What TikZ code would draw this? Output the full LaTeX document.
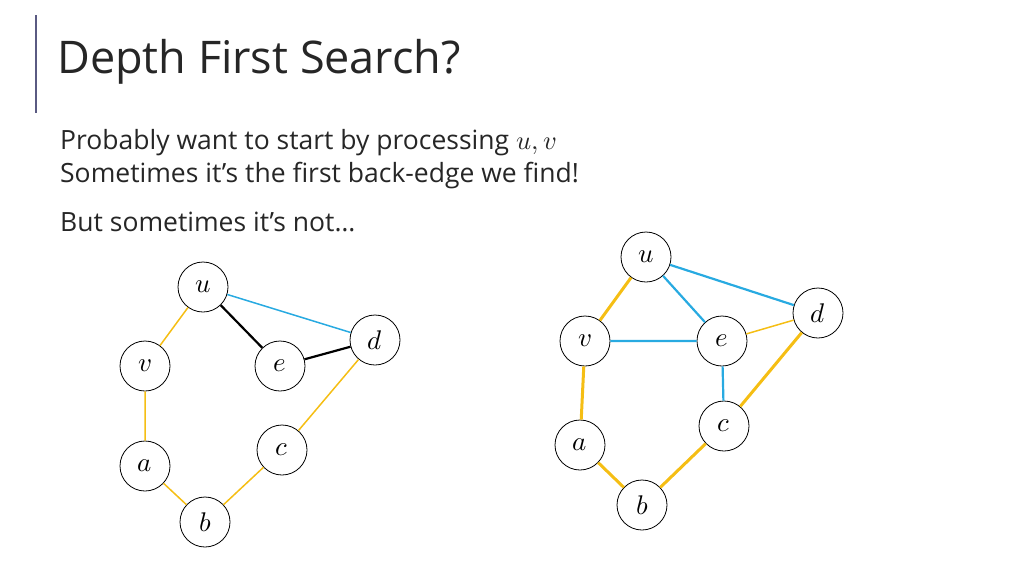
\documentclass[tikz,border=0pt]{standalone}
\usepackage{fontspec}
\setmainfont{Open Sans}
\usepackage{unicode-math}
\definecolor{ylw}{RGB}{245,190,20}
\definecolor{blu}{RGB}{40,170,225}
\definecolor{bar}{RGB}{90,90,130}
\begin{document}
\begin{tikzpicture}[x=1pt,y=-1pt,
  vtx/.style={circle,draw,thick,minimum size=50pt,inner sep=0pt,font=\fontsize{27}{30}\selectfont},
  ye/.style={ylw,line width=1.5pt},
  yt/.style={ylw,line width=3pt},
  be/.style={blu,line width=1.5pt},
  bt/.style={blu,line width=2.2pt},
  ke/.style={black,line width=2.2pt}]
\useasboundingbox (0,0) rectangle (1024,576);
\draw[bar,line width=1.2pt] (36,15) -- (36,113);
\node[anchor=west,font=\fontsize{45}{48}\selectfont,text=black!85,inner sep=0pt] (title) at (57,62) {Depth First Search?};
\node[anchor=west,font=\fontsize{26.5}{29}\selectfont,text=black!85,inner sep=0pt] (l1) at (60,143) {Probably want to start by processing $u,v$};
\node[anchor=west,font=\fontsize{26.5}{29}\selectfont,text=black!85,inner sep=0pt] (l2) at (60,176) {Sometimes it’s the first back-edge we find!};
\node[anchor=west,font=\fontsize{26.5}{29}\selectfont,text=black!85,inner sep=0pt] (l3) at (60,222) {But sometimes it’s not…};
% left graph
\node[vtx] (u) at (203,287) {$u$};
\node[vtx] (v) at (145,366) {$v$};
\node[vtx] (e) at (280,366) {$e$};
\node[vtx] (d) at (375,340) {$d$};
\node[vtx] (a) at (145,466) {$a$};
\node[vtx] (c) at (282,450) {$c$};
\node[vtx] (b) at (205,522) {$b$};
\draw[ye] (u)--(v) (v)--(a) (a)--(b) (b)--(c) (c)--(d);
\draw[be] (u)--(d);
\draw[ke] (u)--(e) (e)--(d);
% right graph
\node[vtx] (U) at (646,257) {$u$};
\node[vtx] (D) at (818,313) {$d$};
\node[vtx] (V) at (585,341) {$v$};
\node[vtx] (E) at (722,341) {$e$};
\node[vtx] (C) at (724,426) {$c$};
\node[vtx] (A) at (580,445) {$a$};
\node[vtx] (B) at (642,505) {$b$};
\draw[yt] (U)--(V) (V)--(A) (A)--(B) (B)--(C) (C)--(D);
\draw[ye] (E)--(D);
\draw[bt] (U)--(D) (U)--(E) (V)--(E) (E)--(C);
\end{tikzpicture}
\end{document}
